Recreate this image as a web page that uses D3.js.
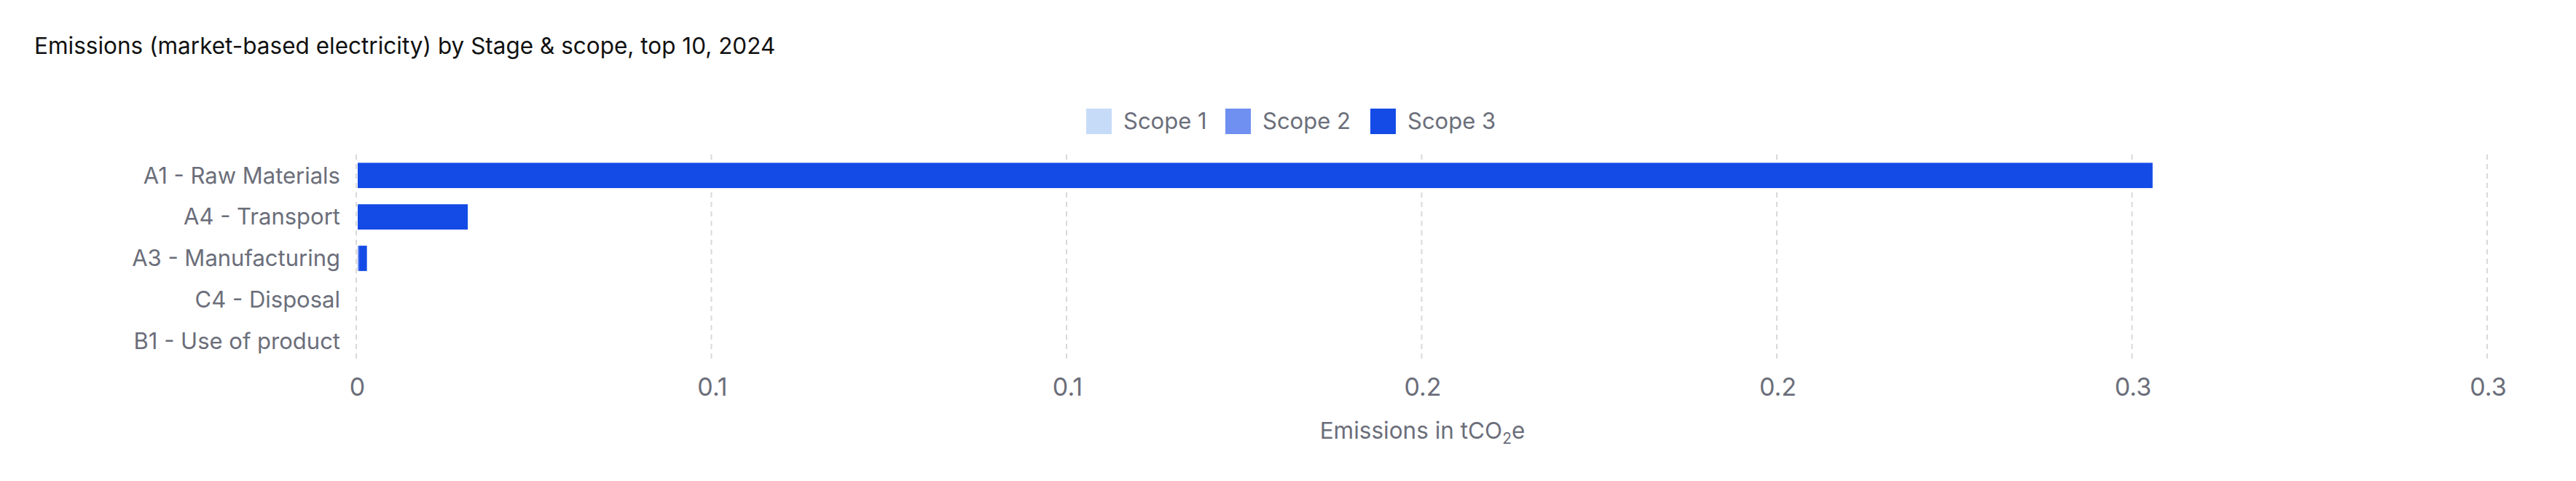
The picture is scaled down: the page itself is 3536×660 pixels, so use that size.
<!DOCTYPE html>
<html>
<head>
<meta charset="utf-8">
<script src="https://cdn.jsdelivr.net/npm/d3@7"></script>
<style>
    body { margin: 0; background: #fff; }
    text { font-family: Inter, "Noto Sans", sans-serif; }
</style>
</head>
<body>
<div id="chart"></div>
<script>
// stages, top to bottom
var stages = ["A1 - Raw Materials", "A4 - Transport", "A3 - Manufacturing", "C4 - Disposal", "B1 - Use of product"];
var scope1 = [0, 0, 0, 0, 0];
var scope2 = [0, 0, 0.0002, 0, 0];
var scope3 = [0.2527, 0.0155, 0.0011, 0, 0];
var scopeNames = ["Scope 1", "Scope 2", "Scope 3"];
var scopeColors = ["#c6dbf7", "#6f8ff1", "#144be6"];
var tickValues = [0, 0.05, 0.1, 0.15, 0.2, 0.25, 0.3];
var tickLabels = ["0", "0.1", "0.1", "0.2", "0.2", "0.3", "0.3"];

var width = 3536, height = 660;
var margin = { top: 212, right: 121, bottom: 163, left: 490 };

var svg = d3.select('#chart').append('svg')
    .attr('width', width)
    .attr('height', height);

svg.append('text')
    .attr('x', 47)
    .attr('y', 74)
    .attr('font-size', 31.5)
    .attr('fill', '#111')
    .text('Emissions (market-based electricity) by Stage & scope, top 10, 2024');

var table = stages.map(function (s, i) {
    return { stage: s, "Scope 1": scope1[i], "Scope 2": scope2[i], "Scope 3": scope3[i] };
});
var series = d3.stack().keys(scopeNames)(table);

var x = d3.scaleLinear()
    .domain([0, 0.3])
    .range([margin.left, width - margin.right]);

var y = d3.scaleBand()
    .domain(stages)
    .range([margin.top, height - margin.bottom])
    .paddingInner(0.39)
    .paddingOuter(0.2);

// dashed grid
svg.append('g')
    .selectAll('line')
    .data(tickValues)
    .enter().append('line')
    .attr('x1', d => x(d) - 1)
    .attr('x2', d => x(d) - 1)
    .attr('y1', margin.top)
    .attr('y2', height - margin.bottom)
    .attr('stroke', '#d9d9d9')
    .attr('stroke-width', 2)
    .attr('stroke-dasharray', '7,6');

// bars
svg.append('g')
    .selectAll('g')
    .data(series)
    .enter().append('g')
    .attr('fill', (d, i) => scopeColors[i])
    .selectAll('rect')
    .data(d => d)
    .enter().append('rect')
    .attr('x', d => x(d[0]) + 1)
    .attr('y', d => y(d.data.stage))
    .attr('width', d => Math.max(0, x(d[1]) - x(d[0])))
    .attr('height', y.bandwidth());

// y labels
svg.append('g')
    .selectAll('text')
    .data(stages)
    .enter().append('text')
    .attr('x', margin.left - 23)
    .attr('y', d => y(d) + y.bandwidth() / 2)
    .attr('dy', '0.35em')
    .attr('text-anchor', 'end')
    .attr('font-size', 31)
    .attr('fill', '#6b6e7a')
    .text(d => d);

// x axis labels
var xAxis = d3.axisBottom(x)
    .tickValues(tickValues)
    .tickFormat((d, i) => tickLabels[i])
    .tickSize(0)
    .tickPadding(0);

var gx = svg.append('g')
    .attr('transform', 'translate(0,' + 519 + ')')
    .call(xAxis);
gx.select('.domain').remove();
gx.selectAll('text')
    .attr('font-family', 'Inter, sans-serif')
    .attr('font-size', 34)
    .attr('fill', '#6b6e7a');

var title = svg.append('text')
    .attr('x', (x(0) + x(0.3)) / 2)
    .attr('y', 602)
    .attr('text-anchor', 'middle')
    .attr('font-size', 31.5)
    .attr('fill', '#6b6e7a');
title.append('tspan').text('Emissions in tCO');
title.append('tspan').attr('font-size', 21).attr('dy', 7).text('2');
title.append('tspan').attr('dy', -7).text('e');

// legend
var legendX = [1491, 1682, 1881];
var legend = svg.append('g')
    .selectAll('g')
    .data(scopeNames)
    .enter().append('g')
    .attr('transform', (d, i) => 'translate(' + legendX[i] + ',149)');
legend.append('rect')
    .attr('width', 35)
    .attr('height', 35)
    .attr('fill', (d, i) => scopeColors[i]);
legend.append('text')
    .attr('x', 51)
    .attr('y', 17.5)
    .attr('dy', '0.35em')
    .attr('font-size', 31)
    .attr('fill', '#6b6e7a')
    .text(d => d);
</script>
</body>
</html>
